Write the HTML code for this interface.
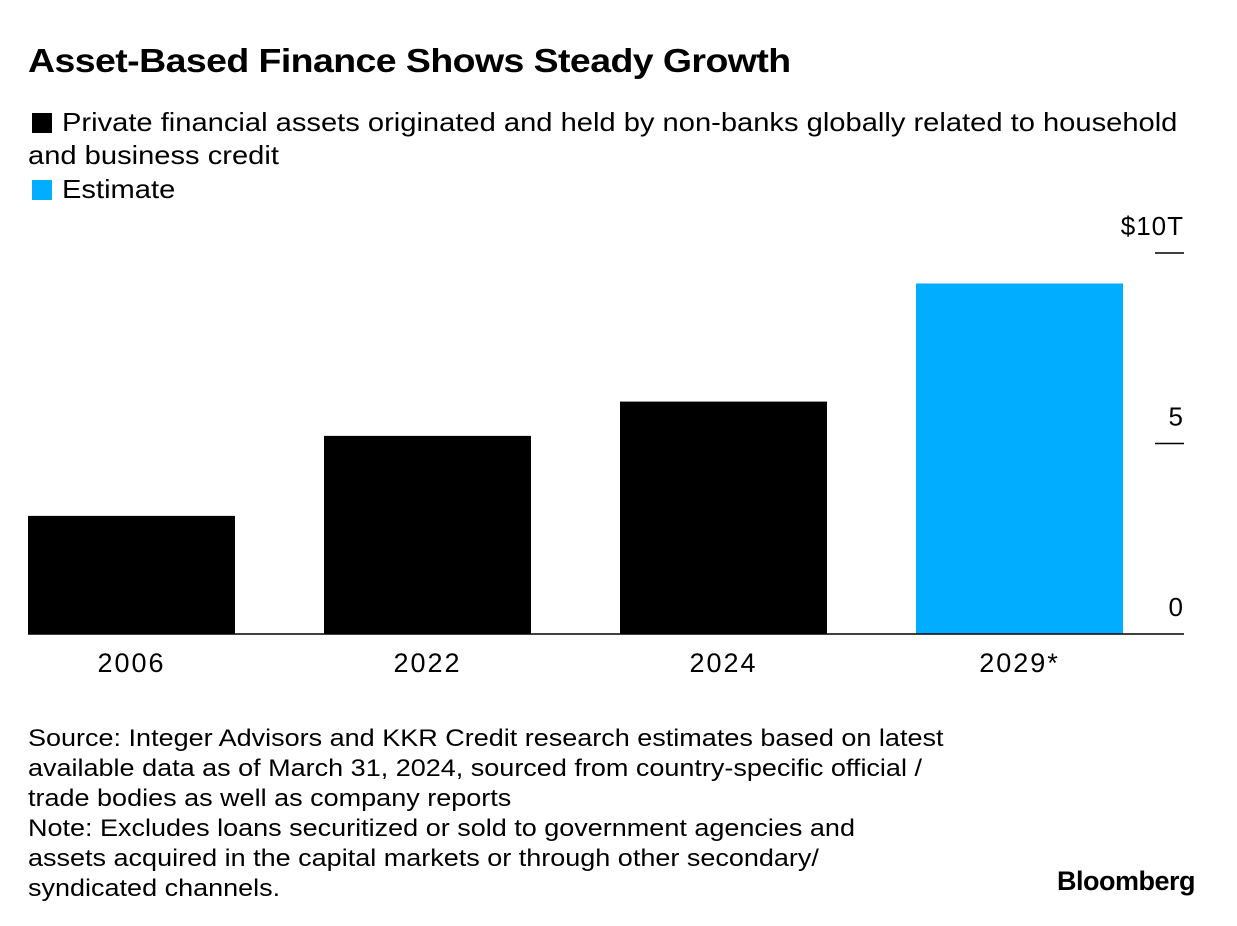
<!DOCTYPE html>
<html><head><meta charset="utf-8"><style>
body{margin:0;width:1237px;height:926px;background:#fff;font-family:"Liberation Sans",sans-serif;color:#000;position:relative;overflow:hidden}
.t{position:absolute;white-space:nowrap;transform-origin:0 0}
</style></head><body>
<div class="t" style="left:28px;top:42px;font-size:33px;font-weight:bold;letter-spacing:-0.5px;transform:scaleX(1.135)">Asset-Based Finance Shows Steady Growth</div>
<span style="position:absolute;left:32px;top:113px;width:20px;height:20px;background:#000"></span>
<div class="t" style="left:62px;top:106px;font-size:26px;line-height:33px;transform:scaleX(1.12)">Private financial assets originated and held by non-banks globally related to household</div>
<div class="t" style="left:28px;top:139px;font-size:26px;line-height:33px;transform:scaleX(1.12)">and business credit</div>
<span style="position:absolute;left:32px;top:180px;width:20px;height:20px;background:#00adff"></span>
<div class="t" style="left:62px;top:173px;font-size:26px;line-height:33px;transform:scaleX(1.12)">Estimate</div>
<svg id="chart" width="1237" height="926" style="position:absolute;left:0;top:0"></svg>
<div class="t" style="left:28px;top:724px;font-size:24px;line-height:30px;transform:scaleX(1.125)">Source: Integer Advisors and KKR Credit research estimates based on latest<br>available data as of March 31, 2024, sourced from country-specific official /<br>trade bodies as well as company reports<br>Note: Excludes loans securitized or sold to government agencies and<br>assets acquired in the capital markets or through other secondary/<br>syndicated channels.</div>
<div class="t" style="left:1057px;top:866px;font-size:27px;font-weight:bold;letter-spacing:-0.5px">Bloomberg</div>
<script>
const categories=["2006","2022","2024","2029*"];
const values=[3.1,5.2,6.1,9.2];
const isEstimate=[false,false,false,true];
const ticks=[0,5,10];
const tickLabels=["0","5","$10T"];
const NS="http://www.w3.org/2000/svg";
const svg=document.getElementById('chart');
const y0=634,pxPer=38.1;
const y=v=>y0-v*pxPer;
const x=i=>28+i*296;
const bw=207;
function mk(t,a){const e=document.createElementNS(NS,t);for(const k in a)e.setAttribute(k,a[k]);svg.appendChild(e);return e;}
values.forEach((v,i)=>{
const r=mk('rect',{x:x(i),y:y(v),width:bw,height:y0-y(v),fill:isEstimate[i]?'#00adff':'#000'});


const t=mk('text',{x:x(i)+bw/2,y:672,'text-anchor':'middle','font-size':27,'letter-spacing':2,'font-family':'Liberation Sans, sans-serif'});
t.textContent=categories[i];


});
ticks.forEach((v,i)=>{
if(v>0){const l=mk('line',{x1:1155,x2:1184,y1:y(v),y2:y(v),stroke:'#000','stroke-width':1.5});

}
const t=mk('text',{x:1184,y:y(v)-18,'text-anchor':'end','font-size':26,'letter-spacing':1,'font-family':'Liberation Sans, sans-serif'});
t.textContent=tickLabels[i];


});
const ax=mk('line',{x1:28,x2:1184,y1:y0,y2:y0,stroke:'#000','stroke-width':1.5});


</script>
</body></html>
